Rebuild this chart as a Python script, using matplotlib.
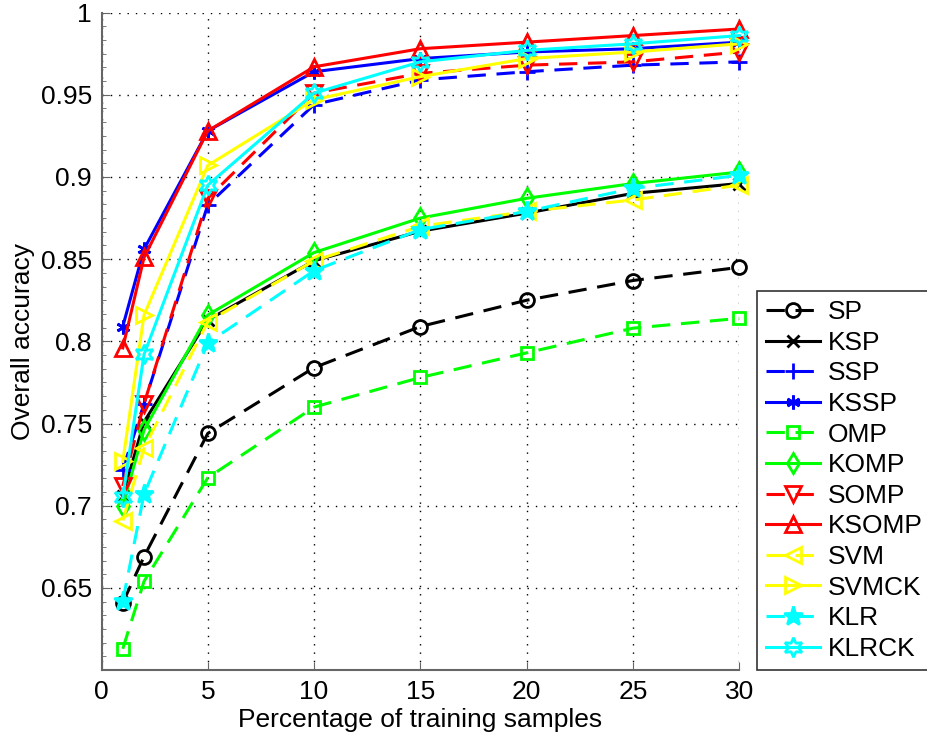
import matplotlib
matplotlib.use('Agg')
import matplotlib.pyplot as plt
from matplotlib.ticker import AutoMinorLocator

plt.rcParams['font.family'] = ['Liberation Sans', 'DejaVu Sans']

# percentage of training samples
x = [1, 2, 5, 10, 15, 20, 25, 30]

sp    = [0.641, 0.669, 0.744, 0.784, 0.809, 0.825, 0.837, 0.845]
ksp   = [0.706, 0.751, 0.813, 0.849, 0.867, 0.878, 0.890, 0.896]
ssp   = [0.722, 0.762, 0.883, 0.944, 0.959, 0.964, 0.968, 0.970]
kssp  = [0.809, 0.856, 0.928, 0.964, 0.972, 0.976, 0.978, 0.982]
omp   = [0.613, 0.654, 0.717, 0.760, 0.778, 0.793, 0.808, 0.814]
komp  = [0.700, 0.746, 0.816, 0.854, 0.875, 0.887, 0.896, 0.903]
somp  = [0.712, 0.762, 0.887, 0.951, 0.963, 0.968, 0.970, 0.976]
ksomp = [0.796, 0.851, 0.928, 0.967, 0.978, 0.982, 0.986, 0.990]
svm   = [0.691, 0.735, 0.812, 0.849, 0.870, 0.879, 0.886, 0.895]
svmck = [0.727, 0.816, 0.907, 0.947, 0.961, 0.972, 0.976, 0.981]
klr   = [0.642, 0.707, 0.799, 0.843, 0.868, 0.879, 0.893, 0.901]
klrck = [0.705, 0.792, 0.895, 0.951, 0.970, 0.977, 0.981, 0.986]

names = ['SP', 'KSP', 'SSP', 'KSSP', 'OMP', 'KOMP', 'SOMP', 'KSOMP',
         'SVM', 'SVMCK', 'KLR', 'KLRCK']
series = [sp, ksp, ssp, kssp, omp, komp, somp, ksomp, svm, svmck, klr, klrck]

# MATLAB-ish styles
colors = ['k', 'k', 'b', 'b', '#00ff00', '#00ff00', 'r', 'r',
          '#ffff00', '#ffff00', '#00ffff', '#00ffff']
markers = ['o', 'x', '+', (6, 2, 0), 's', 'd', 'v', '^', '<', '>', '*', (6, 1, 0)]
sizes = [10, 8, 11, 10, 9, 10, 11, 12, 12, 12, 14, 14]
dashed = [True, False] * 6

fig = plt.figure(figsize=(9.27, 7.38), dpi=100)
ax = fig.add_axes([0.1095, 0.092, 0.688, 0.891])

for y, name, c, m, ms, d in zip(series, names, colors, markers, sizes, dashed):
    fill = c if name == 'KLR' else 'none'
    line, = ax.plot(x, y, color=c, marker=m, markersize=ms, markerfacecolor=fill,
                    markeredgecolor=c, markeredgewidth=2, lw=2.2, label=name,
                    linestyle='--' if d else '-', clip_on=False)
    if d:
        line.set_dashes((6, 3.5))

ax.set_xlim(0, 30)
ax.set_ylim(0.6, 1.0)
ax.set_xticks([0, 5, 10, 15, 20, 25, 30])
ax.set_yticks([0.65, 0.7, 0.75, 0.8, 0.85, 0.9, 0.95, 1.0])
ax.set_yticklabels(['0.65', '0.7', '0.75', '0.8', '0.85', '0.9', '0.95', '1'])
ax.yaxis.set_minor_locator(AutoMinorLocator(6))
ax.tick_params(direction='in', labelsize=19, length=6, color='0.4', pad=7)
ax.tick_params(which='minor', direction='in', length=3, color='0.4')
ax.grid(True, linestyle=(0, (1, 5)), color='k', lw=1)
ax.set_axisbelow(True)
for s in ['top', 'right']:
    ax.spines[s].set_visible(False)
for s in ['left', 'bottom']:
    ax.spines[s].set_color('0.4')
    ax.spines[s].set_linewidth(1.5)

ax.set_xlabel('Percentage of training samples', fontsize=19, labelpad=3)
ax.set_ylabel('Overall accuracy', fontsize=19, labelpad=4)

leg = ax.legend(loc='lower left', bbox_to_anchor=(1.028, 0.0), fontsize=19,
                frameon=True, fancybox=False, edgecolor='k', handlelength=2.05,
                labelspacing=0.25, handletextpad=0.27, borderpad=0.35,
                borderaxespad=0.0)
leg.get_frame().set_linewidth(1.2)

fig.savefig('out.png', dpi=100)
